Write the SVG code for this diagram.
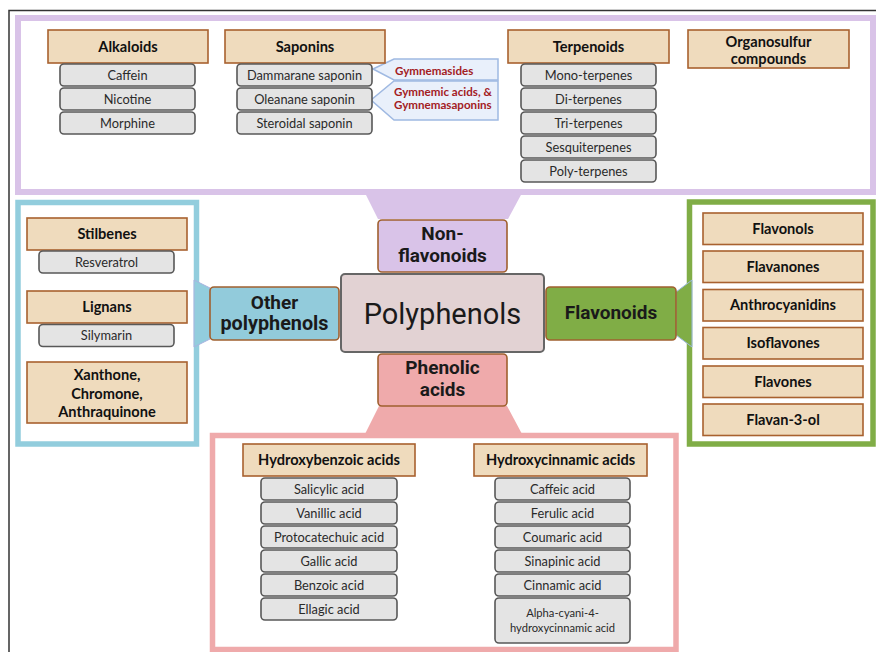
<svg xmlns="http://www.w3.org/2000/svg" width="876" height="652" viewBox="0 0 876 652">
<style>
.hd{fill:#efdbbd;stroke:#a8612f;stroke-width:1.6}
.it{fill:#e4e4e4;stroke:#585858;stroke-width:1.6}
.th{font-family:Lato,"Liberation Sans",sans-serif;font-weight:bold;font-size:14.6px;fill:#111;text-anchor:middle}
.ti{font-family:Lato,"Liberation Sans",sans-serif;font-size:12.8px;fill:#2a2a2a;text-anchor:middle}
.tc{font-family:Roboto,"Liberation Sans",sans-serif;font-weight:bold;font-size:19px;fill:#1a1a1a;text-anchor:middle}
.cb{fill:#e9f0fb;stroke:#9fb9e2;stroke-width:1.5}
.tr{font-family:Lato,"Liberation Sans",sans-serif;font-weight:bold;font-size:11.6px;fill:#a3201f}
.mid{stroke:#a0602f;stroke-width:1.6}
</style>
<rect width="876" height="652" fill="#ffffff"/>
<path d="M9,652 V10.5 H876" fill="none" stroke="#333" stroke-width="1.5"/>

<!-- panels -->
<rect x="18" y="18" width="855" height="174" fill="none" stroke="#d9c3e8" stroke-width="6"/>
<rect x="18" y="202.5" width="178.5" height="241.5" fill="none" stroke="#92cddd" stroke-width="5.5"/>
<rect x="689.5" y="202" width="183.5" height="242" fill="none" stroke="#80ad46" stroke-width="5.5"/>
<rect x="212.5" y="435.5" width="463.5" height="214" fill="none" stroke="#efaaab" stroke-width="5.5"/>

<g id="connectors">
<polygon points="365,193 522,193 508,219 378,219" fill="#d9c3e8"/>
<polygon points="379,406 507,406 522,434 365,434" fill="#efaaab"/>
<polygon points="194,280 210,288 210,339 194,347" fill="#92cddd" stroke="#a9b3e0" stroke-width="1"/>
<polygon points="676,292 692,280 692,347 676,335" fill="#80ad46" stroke="#9ab8e0" stroke-width="1"/>
<polygon class="cb" points="373,69 394,59 498,59 498,80 394,80"/>
<polygon class="cb" points="371,100 394,81 498,81 498,120 394,120"/>
</g>

<g id="center">
<rect x="341" y="274" width="203" height="78" rx="4" fill="#e2d2d3" stroke="#666" stroke-width="2"/>
<text x="442.5" y="324" font-family="Roboto,'Liberation Sans',sans-serif" font-size="29px" fill="#1a1a1a" text-anchor="middle">Polyphenols</text>
</g>
<g id="nonflavonoids">
<rect class="mid" x="378" y="220" width="129" height="52" rx="4" fill="#d9c3e8"/>
<text class="tc" x="442.5" y="240">Non-</text>
<text class="tc" x="442.5" y="262">flavonoids</text>
</g>
<g id="phenolic">
<rect class="mid" x="378" y="354" width="129" height="52" rx="4" fill="#efaaab"/>
<text class="tc" x="442.5" y="374">Phenolic</text>
<text class="tc" x="442.5" y="396">acids</text>
</g>
<g id="other">
<rect class="mid" x="210" y="287" width="129" height="53" rx="4" fill="#92cbdb"/>
<text class="tc" x="274.5" y="308.5">Other</text>
<text class="tc" x="274.5" y="330" style="font-size:19.8px">polyphenols</text>
</g>
<g id="flavonoids">
<rect class="mid" x="546" y="287" width="130" height="53" rx="4" fill="#80ad46"/>
<text class="tc" x="611" y="319">Flavonoids</text>
</g>

<!-- top panel -->
<g id="alkaloids">
<rect class="hd" x="48" y="30" width="160" height="33"/>
<text class="th" x="128" y="51.5">Alkaloids</text>
<rect class="it" x="60" y="64" width="135" height="22" rx="4"/><text class="ti" x="127.5" y="79.5">Caffein</text>
<rect class="it" x="60" y="88" width="135" height="22" rx="4"/><text class="ti" x="127.5" y="103.5">Nicotine</text>
<rect class="it" x="60" y="112" width="135" height="22" rx="4"/><text class="ti" x="127.5" y="127.5">Morphine</text>
</g>
<g id="saponins">
<rect class="hd" x="225" y="30" width="160" height="33"/>
<text class="th" x="305" y="51.5">Saponins</text>
<rect class="it" x="237" y="64" width="135" height="22" rx="4"/><text class="ti" x="304.5" y="79.5">Dammarane saponin</text>
<rect class="it" x="237" y="88" width="135" height="22" rx="4"/><text class="ti" x="304.5" y="103.5">Oleanane saponin</text>
<rect class="it" x="237" y="112" width="135" height="22" rx="4"/><text class="ti" x="304.5" y="127.5">Steroidal saponin</text>
</g>
<g id="gymnemasides">
<text class="tr" x="395" y="75">Gymnemasides</text>
</g>
<g id="gymnemic">
<text class="tr" x="394" y="96">Gymnemic acids, &amp;</text>
<text class="tr" x="394" y="109">Gymnemasaponins</text>
</g>
<g id="terpenoids">
<rect class="hd" x="508" y="30" width="161" height="33"/>
<text class="th" x="588.5" y="51.5">Terpenoids</text>
<rect class="it" x="521" y="64" width="135" height="22" rx="4"/><text class="ti" x="588.5" y="79.5">Mono-terpenes</text>
<rect class="it" x="521" y="88" width="135" height="22" rx="4"/><text class="ti" x="588.5" y="103.5">Di-terpenes</text>
<rect class="it" x="521" y="112" width="135" height="22" rx="4"/><text class="ti" x="588.5" y="127.5">Tri-terpenes</text>
<rect class="it" x="521" y="136" width="135" height="22" rx="4"/><text class="ti" x="588.5" y="151.5">Sesquiterpenes</text>
<rect class="it" x="521" y="160" width="135" height="22" rx="4"/><text class="ti" x="588.5" y="175.5">Poly-terpenes</text>
</g>
<g id="organosulfur">
<rect class="hd" x="688" y="30" width="161" height="38"/>
<text class="th" x="768.5" y="46.5">Organosulfur</text>
<text class="th" x="768.5" y="63.5">compounds</text>
</g>

<!-- left panel -->
<g id="stilbenes">
<rect class="hd" x="27" y="218" width="160" height="32"/>
<text class="th" x="107" y="239">Stilbenes</text>
<rect class="it" x="39" y="251" width="135" height="22" rx="4"/><text class="ti" x="106.5" y="266.5">Resveratrol</text>
</g>
<g id="lignans">
<rect class="hd" x="27" y="291" width="160" height="32"/>
<text class="th" x="107" y="312">Lignans</text>
<rect class="it" x="39" y="324.5" width="135" height="22" rx="4"/><text class="ti" x="106.5" y="340">Silymarin</text>
</g>
<g id="xanthone">
<rect class="hd" x="27" y="362" width="160" height="61"/>
<text class="th" x="107" y="380">Xanthone,</text>
<text class="th" x="107" y="398.5">Chromone,</text>
<text class="th" x="107" y="417">Anthraquinone</text>
</g>

<!-- right panel -->
<g id="flavonols"><rect class="hd" x="703" y="213" width="160" height="31.5"/><text class="th" x="783" y="233.5">Flavonols</text></g>
<g id="flavanones"><rect class="hd" x="703" y="251" width="160" height="31.5"/><text class="th" x="783" y="271.5">Flavanones</text></g>
<g id="anthrocyanidins"><rect class="hd" x="703" y="289.5" width="160" height="31.5"/><text class="th" x="783" y="310">Anthrocyanidins</text></g>
<g id="isoflavones"><rect class="hd" x="703" y="327.5" width="160" height="31.5"/><text class="th" x="783" y="348">Isoflavones</text></g>
<g id="flavones"><rect class="hd" x="703" y="366" width="160" height="31.5"/><text class="th" x="783" y="386.5">Flavones</text></g>
<g id="flavan3ol"><rect class="hd" x="703" y="404" width="160" height="31.5"/><text class="th" x="783" y="424.5">Flavan-3-ol</text></g>

<!-- bottom panel -->
<g id="hydroxybenzoic">
<rect class="hd" x="243" y="444" width="172" height="32"/>
<text class="th" x="329" y="465">Hydroxybenzoic acids</text>
<rect class="it" x="261" y="478" width="136" height="22" rx="4"/><text class="ti" x="329" y="493.5">Salicylic acid</text>
<rect class="it" x="261" y="502" width="136" height="22" rx="4"/><text class="ti" x="329" y="517.5">Vanillic acid</text>
<rect class="it" x="261" y="526" width="136" height="22" rx="4"/><text class="ti" x="329" y="541.5">Protocatechuic acid</text>
<rect class="it" x="261" y="550" width="136" height="22" rx="4"/><text class="ti" x="329" y="565.5">Gallic acid</text>
<rect class="it" x="261" y="574" width="136" height="22" rx="4"/><text class="ti" x="329" y="589.5">Benzoic acid</text>
<rect class="it" x="261" y="598" width="136" height="22" rx="4"/><text class="ti" x="329" y="613.5">Ellagic acid</text>
</g>
<g id="hydroxycinnamic">
<rect class="hd" x="474" y="444" width="173" height="32"/>
<text class="th" x="560.5" y="465">Hydroxycinnamic acids</text>
<rect class="it" x="495" y="478" width="135" height="22" rx="4"/><text class="ti" x="562.5" y="493.5">Caffeic acid</text>
<rect class="it" x="495" y="502" width="135" height="22" rx="4"/><text class="ti" x="562.5" y="517.5">Ferulic acid</text>
<rect class="it" x="495" y="526" width="135" height="22" rx="4"/><text class="ti" x="562.5" y="541.5">Coumaric acid</text>
<rect class="it" x="495" y="550" width="135" height="22" rx="4"/><text class="ti" x="562.5" y="565.5">Sinapinic acid</text>
<rect class="it" x="495" y="574" width="135" height="22" rx="4"/><text class="ti" x="562.5" y="589.5">Cinnamic acid</text>
<rect class="it" x="495" y="598" width="135" height="45" rx="4"/>
<text class="ti" x="562.5" y="617" style="font-size:11.2px">Alpha-cyani-4-</text>
<text class="ti" x="562.5" y="632" style="font-size:11.2px">hydroxycinnamic acid</text>
</g>
</svg>
